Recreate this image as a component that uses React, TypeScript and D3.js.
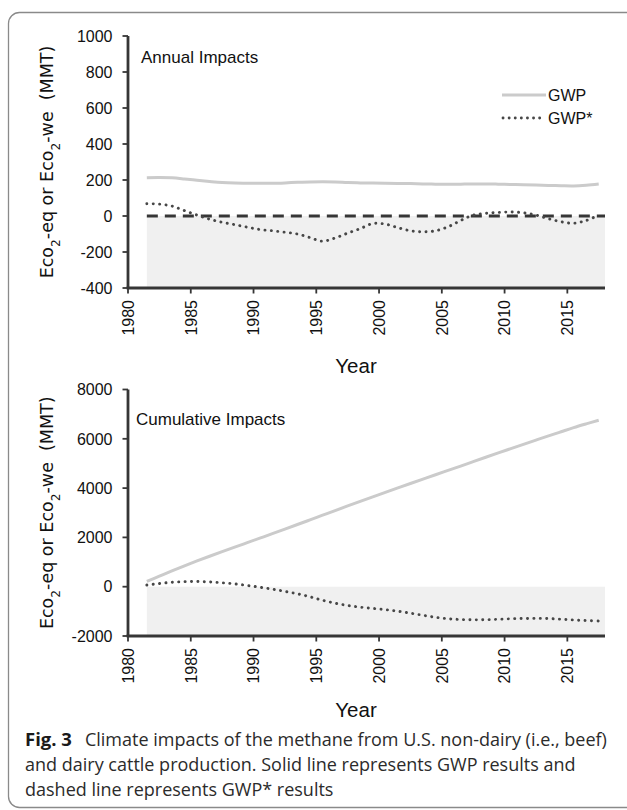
import React from "react";
import * as d3 from "d3";

const years: number[] = [
  1981, 1982, 1983, 1984, 1985, 1986, 1987, 1988, 1989, 1990, 1991, 1992, 1993,
  1994, 1995, 1996, 1997, 1998, 1999, 2000, 2001, 2002, 2003, 2004, 2005, 2006,
  2007, 2008, 2009, 2010, 2011, 2012, 2013, 2014, 2015, 2016, 2017,
];

const annualGWP: number[] = [
  213, 214, 212, 206, 199, 192, 186, 183, 182, 182, 182, 184, 187, 189, 190,
  189, 186, 184, 183, 182, 181, 180, 178, 177, 176, 177, 178, 178, 177, 175,
  174, 172, 170, 168, 167, 171, 178,
];

const annualGWPStar: number[] = [
  68, 66, 55, 30, 5, -18, -35, -48, -62, -75, -82, -90, -100, -120, -140, -122,
  -95, -70, -42, -45, -65, -82, -88, -82, -60, -25, 5, 15, 20, 22, 18, 5, -15,
  -32, -40, -25, 5,
];

const cumulativeGWP: number[] = [
  213, 427, 639, 845, 1044, 1236, 1422, 1605, 1787, 1969, 2151, 2335, 2522,
  2711, 2901, 3090, 3276, 3460, 3643, 3825, 4006, 4186, 4364, 4541, 4717, 4894,
  5072, 5250, 5427, 5602, 5776, 5948, 6118, 6286, 6453, 6605, 6750,
];

const cumulativeGWPStar: number[] = [
  68, 130, 180, 205, 210, 195, 160, 115, 50, -20, -100, -190, -290, -410, -550,
  -670, -760, -830, -880, -930, -995, -1075, -1160, -1240, -1300, -1330, -1345,
  -1340, -1320, -1300, -1290, -1285, -1295, -1320, -1350, -1375, -1395,
];

const xTicks: number[] = [1980, 1985, 1990, 1995, 2000, 2005, 2010, 2015];
const annualYTicks: number[] = [-400, -200, 0, 200, 400, 600, 800, 1000];
const cumulativeYTicks: number[] = [-2000, 0, 2000, 4000, 6000, 8000];
const legendLabels: string[] = ["GWP", "GWP*"];
const captionLines: string[] = [
  "Climate impacts of the methane from U.S. non-dairy (i.e., beef)",
  "and dairy cattle production. Solid line represents GWP results and",
  "dashed line represents GWP* results",
];

const AXIS = "#363636";
const GWP_COLOR = "#cbcbcb";
const STAR_COLOR = "#474747";
const FILL = "#f0f0f0";
const TICK_FONT = "'Liberation Sans', Arial, sans-serif";
const LABEL_FONT = "'DejaVu Sans', Verdana, sans-serif";

type PanelProps = {
  title: string;
  gwp: number[];
  star: number[];
  yDomain: [number, number];
  yRange: [number, number];
  yTicks: number[];
  zeroLine: boolean;
  legend: boolean;
  titleY: number;
  titleX: number;
  yearY: number;
};

const x = d3.scaleLinear().domain([1980, 2018]).range([128, 605]);

function Panel(p: PanelProps) {
  const y = d3.scaleLinear().domain(p.yDomain).range(p.yRange);
  const line = d3
    .line<number>()
    .x((_, i) => x(years[i] + 0.5))
    .y((d) => y(d))
    .curve(d3.curveCatmullRom.alpha(0.5));
  const y0 = y(p.yDomain[0]);
  const y1 = y(p.yDomain[1]);
  const xEnd = x(2018);
  const labelCenter = (y0 + y1) / 2;
  return (
    <g>
      <rect
        x={x(1981.5)}
        y={y(0)}
        width={x(2018) - x(1981.5)}
        height={y0 - y(0)}
        fill={FILL}
      />
      {p.zeroLine && (
        <line
          x1={x(1981.5)}
          x2={xEnd}
          y1={y(0)}
          y2={y(0)}
          stroke={AXIS}
          strokeWidth={2.8}
          strokeDasharray="11 7"
        />
      )}
      <path d={line(p.gwp) || ""} fill="none" stroke={GWP_COLOR} strokeWidth={3} />
      <path
        d={line(p.star) || ""}
        fill="none"
        stroke={STAR_COLOR}
        strokeWidth={2.9}
        strokeLinecap="round"
        strokeDasharray="0.1 6.3"
      />
      {/* axes */}
      <line x1={x(1980)} x2={x(1980)} y1={y1} y2={y0} stroke={AXIS} strokeWidth={2.8} />
      <line x1={x(1980) - 1.4} x2={xEnd} y1={y0} y2={y0} stroke={AXIS} strokeWidth={2.8} />
      {p.yTicks.map((t) => (
        <g key={"yt" + t}>
          <line x1={x(1980) - 5.5} x2={x(1980)} y1={y(t)} y2={y(t)} stroke={AXIS} strokeWidth={1.8} />
          <text
            x={112.5}
            y={y(t)}
            dy="0.36em"
            textAnchor="end"
            fontFamily={TICK_FONT}
            fontSize={16}
            fill="#111"
          >
            {t}
          </text>
        </g>
      ))}
      {xTicks.map((t) => (
        <g key={"xt" + t}>
          <line x1={x(t)} x2={x(t)} y1={y0} y2={y0 + 5.5} stroke={AXIS} strokeWidth={1.8} />
          <text
            transform={`translate(${x(t)},${y0 + 12}) rotate(-90)`}
            dy="0.36em"
            textAnchor="end"
            fontFamily={TICK_FONT}
            fontSize={16}
            fill="#111"
          >
            {t}
          </text>
        </g>
      ))}
      <text
        x={p.titleX}
        y={p.titleY}
        fontFamily={TICK_FONT}
        fontSize={17}
        fill="#111"
      >
        {p.title}
      </text>
      <text
        x={356}
        y={p.yearY}
        textAnchor="middle"
        fontFamily={TICK_FONT}
        fontSize={20.5}
        fill="#111"
      >
        Year
      </text>
      <text
        transform={`translate(47,${labelCenter}) rotate(-90)`}
        textAnchor="middle"
        dy="0.36em"
        fontFamily={LABEL_FONT}
        fontSize={17.5}
        fill="#111"
      >
        <tspan>Eco</tspan>
        <tspan baselineShift="sub" fontSize="70%">2</tspan>
        <tspan>-eq or Eco</tspan>
        <tspan baselineShift="sub" fontSize="70%">2</tspan>
        <tspan>{"-we\u00a0\u00a0(MMT)"}</tspan>
      </text>
      {p.legend && (
        <g>
          <line x1={502} x2={546} y1={95} y2={95} stroke={GWP_COLOR} strokeWidth={3} />
          <text x={548} y={100.8} fontFamily={TICK_FONT} fontSize={16} fill="#111">
            {legendLabels[0]}
          </text>
          <line
            x1={503}
            x2={545}
            y1={118}
            y2={118}
            stroke={STAR_COLOR}
            strokeWidth={2.8}
            strokeLinecap="round"
            strokeDasharray="0.1 6"
          />
          <text x={548} y={123.8} fontFamily={TICK_FONT} fontSize={16} fill="#111">
            {legendLabels[1]}
          </text>
        </g>
      )}
    </g>
  );
}

export default function App() {
  return (
    <svg
      width={627}
      height={810}
      style={{ position: "absolute", left: 0, top: 0, background: "#fff" }}
    >
      <rect x={0} y={0} width={627} height={810} fill="#fff" />
      <rect
        x={8.5}
        y={12.5}
        width={660}
        height={795}
        rx={11}
        fill="none"
        stroke="#8a8a8a"
        strokeWidth={1.3}
      />
      <Panel
        title="Annual Impacts"
        gwp={annualGWP}
        star={annualGWPStar}
        yDomain={[-400, 1000]}
        yRange={[288, 36]}
        yTicks={annualYTicks}
        zeroLine={true}
        legend={true}
        titleX={141}
        titleY={63}
        yearY={373}
      />
      <Panel
        title="Cumulative Impacts"
        gwp={cumulativeGWP}
        star={cumulativeGWPStar}
        yDomain={[-2000, 8000]}
        yRange={[636, 389.5]}
        yTicks={cumulativeYTicks}
        zeroLine={false}
        legend={false}
        titleX={136}
        titleY={425}
        yearY={717}
      />
      <g fontFamily="'Open Sans', 'Noto Sans', sans-serif" fontSize={18} fill="#2b2b2b">
        <text x={25} y={746}>
          <tspan fontWeight="bold" fill="#1a1a1a" fontSize={18.5}>Fig. 3</tspan>
          <tspan dx={13}>{captionLines[0]}</tspan>
        </text>
        <text x={25} y={771}>
          {captionLines[1]}
        </text>
        <text x={25} y={796}>
          {captionLines[2]}
        </text>
      </g>
    </svg>
  );
}
